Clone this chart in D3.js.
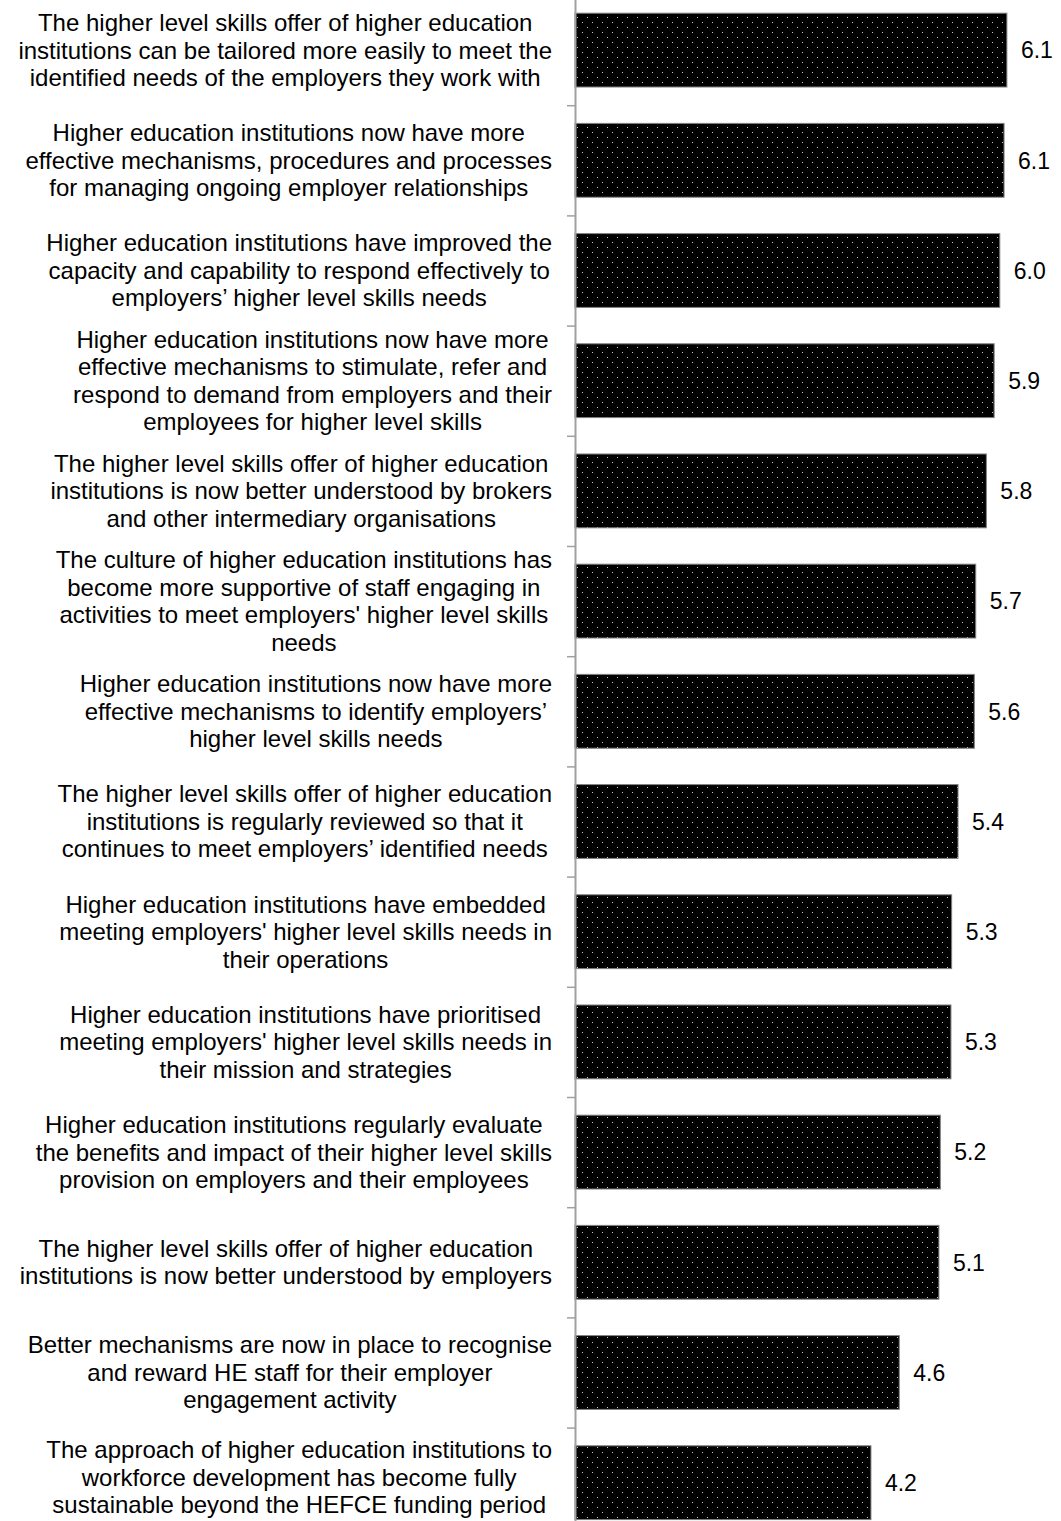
<!DOCTYPE html>
<html>
<head>
<meta charset="utf-8">
<script src="https://cdn.jsdelivr.net/npm/d3@7"></script>
<style>
  body { margin: 0; background: #fff; }
  text { font-family: "Liberation Sans", Arial, sans-serif; fill: #000; }
</style>
</head>
<body>
<div id="wrapper"></div>
<script>
// statements, top to bottom, each split into the lines shown on the chart
var labels = [
    ["The higher level skills offer of higher education", "institutions can be tailored more easily to meet the", "identified needs of the employers they work with"],
    ["Higher education institutions now have more", "effective mechanisms, procedures and processes", "for managing ongoing employer relationships"],
    ["Higher education institutions have improved the", "capacity and capability to respond effectively to", "employers\u2019 higher level skills needs"],
    ["Higher education institutions now have more", "effective mechanisms to stimulate, refer and", "respond to demand from employers and their", "employees for higher level skills"],
    ["The higher level skills offer of higher education", "institutions is now better understood by brokers", "and other intermediary organisations"],
    ["The culture of higher education institutions has", "become more supportive of staff engaging in", "activities to meet employers' higher level skills", "needs"],
    ["Higher education institutions now have more", "effective mechanisms to identify employers\u2019", "higher level skills needs"],
    ["The higher level skills offer of higher education", "institutions is regularly reviewed so that it", "continues to meet employers\u2019 identified needs"],
    ["Higher education institutions have embedded", "meeting employers' higher level skills needs in", "their operations"],
    ["Higher education institutions have prioritised", "meeting employers' higher level skills needs in", "their mission and strategies"],
    ["Higher education institutions regularly evaluate", "the benefits and impact of their higher level skills", "provision on employers and their employees"],
    ["The higher level skills offer of higher education", "institutions is now better understood by employers"],
    ["Better mechanisms are now in place to recognise", "and reward HE staff for their employer", "engagement activity"],
    ["The approach of higher education institutions to", "workforce development has become fully", "sustainable beyond the HEFCE funding period"]
]

// mean scores
var values = [6.10, 6.06, 6.00, 5.92, 5.81, 5.66, 5.64, 5.41, 5.32, 5.31, 5.16, 5.14, 4.58, 4.18]

var data = labels.map((l, i) => ({id: i, lines: l, value: values[i]}))

var width = 1061
var height = 1521

const svg = d3.select("#wrapper")
    .append("svg")
    .attr("width", width)
    .attr("height", height)

// dotted fill like the original bars
var pat = svg.append("defs").append("pattern")
    .attr("id", "dots")
    .attr("patternUnits", "userSpaceOnUse")
    .attr("width", 10)
    .attr("height", 10)
pat.append("rect").attr("width", 10).attr("height", 10).attr("fill", "#000")
pat.append("rect").attr("x", 2).attr("y", 2).attr("width", 1).attr("height", 1).attr("fill", "#c8c8c8")
pat.append("rect").attr("x", 7).attr("y", 7).attr("width", 1).attr("height", 1).attr("fill", "#c8c8c8")

var axisX = 575
var plotTop = -5
var plotBottom = 1537.8

var x = d3.scaleLinear()
    .domain([0, 7])
    .range([axisX, axisX + 70.8 * 7])

var y = d3.scaleBand()
    .domain(data.map(d => d.id))
    .range([plotTop, plotBottom])
    .paddingInner(0.33)
    .paddingOuter(0.165)

// category boundaries for the tick marks
var yEdge = d3.scaleLinear()
    .domain([0, data.length])
    .range([plotTop, plotBottom])

svg.append("g")
    .selectAll("rect")
    .data(data)
    .enter()
    .append("rect")
    .attr("x", x(0))
    .attr("y", d => y(d.id))
    .attr("width", d => x(d.value) - x(0))
    .attr("height", y.bandwidth())
    .attr("fill", "url(#dots)")
    .attr("stroke", "#808080")
    .attr("stroke-width", 1)

const axis = svg.append("g")
    .attr("transform", `translate(${axisX},0)`)
    .call(d3.axisLeft(yEdge)
        .tickValues(d3.range(1, data.length))
        .tickSize(8)
        .tickSizeOuter(0)
        .tickFormat(""))
axis.select(".domain").attr("stroke", "#a0a0a0").attr("stroke-width", 2)
axis.selectAll(".tick line").attr("stroke", "#a0a0a0").attr("stroke-width", 1.5)

// value labels
svg.append("g")
    .selectAll("text")
    .data(data)
    .enter()
    .append("text")
    .attr("x", d => x(d.value) + 14)
    .attr("y", d => y(d.id) + y.bandwidth() / 2)
    .attr("dy", "0.36em")
    .style("font-size", "23px")
    .text(d => d3.format(".1f")(d.value))

// category labels: each block sits against the axis, lines centred in it
var lineH = 27.5
var rightEdge = 552

const cat = svg.append("g")
    .selectAll("text")
    .data(data)
    .enter()
    .append("text")
    .attr("text-anchor", "middle")
    .style("font-size", "24px")

cat.each(function(d) {
    var t = d3.select(this)
    var cy = y(d.id) + y.bandwidth() / 2
    var n = d.lines.length
    // keep the last block inside the picture
    var lastBase = cy + (n - 1) / 2 * lineH + 8.4
    if (lastBase > height - 8) cy -= lastBase - (height - 8)
    d.lines.forEach((ln, i) => {
        t.append("tspan")
            .attr("y", cy + (i - (n - 1) / 2) * lineH)
            .attr("dy", "0.35em")
            .text(ln)
    })
    var maxW = d3.max(t.selectAll("tspan").nodes(), n => n.getComputedTextLength())
    t.selectAll("tspan").attr("x", rightEdge - maxW / 2)
})
</script>
</body>
</html>
